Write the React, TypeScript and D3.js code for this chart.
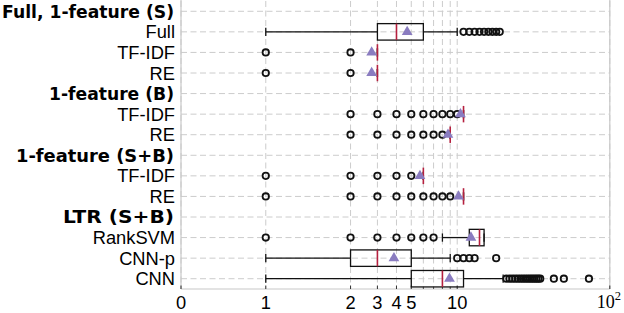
import React from "react";
import * as d3 from "d3";

const rowLabels = [
  "Full, 1-feature (S)", "Full", "TF-IDF", "RE",
  "1-feature (B)", "TF-IDF", "RE",
  "1-feature (S+B)", "TF-IDF", "RE",
  "LTR (S+B)", "RankSVM", "CNN-p", "CNN",
];
const headerRows = [true, false, false, false, true, false, false, true, false, false, true, false, false, false];
const headerWidths = [172, 0, 0, 0, 125, 0, 0, 158, 0, 0, 111, 0, 0, 0];

const whiskerLow = [null, 1, 3, 3, null, 11, 9, null, 6, 11, null, 8, 1, 1];
const quartile1 = [null, 3, 3, 3, null, 11, 9, null, 6, 11, null, 12, 2, 5];
const medians = [null, 4, 3, 3, null, 11, 9, null, 6, 11, null, 14, 3, 8];
const quartile3 = [null, 6, 3, 3, null, 11, 9, null, 6, 11, null, 15, 5, 11];
const whiskerHigh = [null, 10, 3, 3, null, 11, 9, null, 6, 11, null, 15, 9, 20];
const means = [null, 4.7, 2.75, 2.75, null, 10.5, 8.7, null, 5.7, 10.2, null, 12.3, 3.85, 8.9];
const fliers: number[][] = [
  [],
  [11, 12, 13, 14, 15, 16, 17, 18, 19],
  [1, 2],
  [1, 2],
  [],
  [2, 3, 4, 5, 6, 7, 8, 9, 10],
  [2, 3, 4, 5, 6, 7, 8],
  [],
  [1, 2, 3, 4, 5],
  [1, 2, 3, 4, 5, 6, 7, 8, 9],
  [],
  [1, 2, 3, 4, 5, 6, 7],
  [10, 11, 12, 13, 18],
  [21, 22, 23, 24, 25, 26, 27, 28, 29, 30, 31, 32, 33, 34, 35, 43, 50, 73],
];

const majorTicks = [0, 1, 2, 3, 4, 5, 10, 100];
const minorTicks = [6, 7, 8, 9];

// matplotlib-like symlog: linthresh 2, linscale 1, base 10
const LINTHRESH = 2;
const LINSCALE_ADJ = 1 / (1 - 1 / 10);
const symT = (v: number) =>
  v <= LINTHRESH ? v * LINSCALE_ADJ : LINTHRESH * (LINSCALE_ADJ + Math.log10(v / LINTHRESH));

const W = 624, H = 313;
const left = 181, right = 609.8, top = 1, bottom = 289;

const MEDIAN = "#b5203f";
const MEAN = "#8a7cc0";
const GRID = "#cccccc";

export default function App() {
  const xs = d3.scaleLinear().domain([symT(0), symT(100)]).range([left, right]);
  const x = (v: number) => xs(symT(v));
  const yb = d3.scaleBand<number>().domain(d3.range(rowLabels.length)).range([top, bottom]);
  const bw = yb.bandwidth();
  const yc = (i: number) => (yb(i) as number) + bw / 2;
  const boxH = bw * 0.8;
  const tri = d3.symbol().type(d3.symbolTriangle).size(50)() as string;

  return (
    <svg width={W} height={H} style={{ position: "absolute", left: 0, top: 0 }}>
      {/* grid */}
      {[...majorTicks, ...minorTicks].map((t) => (
        <line key={"vg" + t} x1={x(t)} x2={x(t)} y1={top} y2={bottom} stroke={GRID} strokeWidth={1} strokeDasharray="6,3.5" />
      ))}
      {rowLabels.map((_, i) => (
        <line key={"hg" + i} x1={left} x2={right} y1={yc(i)} y2={yc(i)} stroke={GRID} strokeWidth={1} strokeDasharray="6,3.5" />
      ))}
      {/* spines */}
      <line x1={left} x2={left} y1={0} y2={bottom} stroke="#c8c8c8" strokeWidth={1.2} />
      <line x1={right} x2={right} y1={0} y2={bottom} stroke="#c8c8c8" strokeWidth={1.2} />
      <line x1={left} x2={right} y1={bottom} y2={bottom} stroke="#c8c8c8" strokeWidth={1.2} />
      {/* ticks */}
      {majorTicks.map((t) => (
        <line key={"mt" + t} x1={x(t)} x2={x(t)} y1={bottom} y2={bottom - 3.5} stroke="#333" strokeWidth={1} />
      ))}
      {minorTicks.map((t) => (
        <line key={"mi" + t} x1={x(t)} x2={x(t)} y1={bottom} y2={bottom - 2} stroke="#333" strokeWidth={0.8} />
      ))}
      {/* boxes */}
      {rowLabels.map((_, i) => {
        if (headerRows[i]) return null;
        const cy = yc(i);
        const wl = whiskerLow[i] as number, q1 = quartile1[i] as number, q3 = quartile3[i] as number, wh = whiskerHigh[i] as number;
        const capH = boxH / 2;
        return (
          <g key={"b" + i} stroke="#111" strokeWidth={1.3} fill="none">
            <line x1={x(wl)} x2={x(q1)} y1={cy} y2={cy} />
            <line x1={x(q3)} x2={x(wh)} y1={cy} y2={cy} />
            <line x1={x(wl)} x2={x(wl)} y1={cy - capH / 2} y2={cy + capH / 2} />
            <line x1={x(wh)} x2={x(wh)} y1={cy - capH / 2} y2={cy + capH / 2} />
            <rect x={x(q1)} y={cy - boxH / 2} width={x(q3) - x(q1)} height={boxH} />
          </g>
        );
      })}
      {/* fliers */}
      {fliers.map((fs, i) =>
        fs.map((f, j) => (
          <circle key={"f" + i + "-" + j} cx={x(f)} cy={yc(i)} r={3.2} fill="none" stroke="#111" strokeWidth={1.8} />
        ))
      )}
      {/* medians */}
      {rowLabels.map((_, i) =>
        headerRows[i] ? null : (
          <line key={"m" + i} x1={x(medians[i] as number)} x2={x(medians[i] as number)} y1={yc(i) - boxH / 2} y2={yc(i) + boxH / 2} stroke={MEDIAN} strokeWidth={1.6} />
        )
      )}
      {/* means */}
      {rowLabels.map((_, i) =>
        headerRows[i] ? null : (
          <path key={"mn" + i} d={tri} transform={`translate(${x(means[i] as number)},${yc(i)})`} fill={MEAN} />
        )
      )}
      {/* y labels */}
      {rowLabels.map((lab, i) =>
        headerRows[i] ? (
          <text
            key={"yl" + i}
            x={174}
            y={yc(i)}
            dy="0.36em"
            textAnchor="end"
            fontFamily="DejaVu Sans"
            fontWeight="bold"
            fontSize={17.5}
            textLength={headerWidths[i]}
            lengthAdjust="spacingAndGlyphs"
            fill="#000"
          >
            {lab}
          </text>
        ) : (
          <text
            key={"yl" + i}
            x={175}
            y={yc(i)}
            dy="0.36em"
            textAnchor="end"
            fontFamily="Liberation Sans"
            fontSize={18.3}
            fill="#000"
          >
            {lab}
          </text>
        )
      )}
      {/* x labels */}
      {majorTicks.slice(0, -1).map((t) => (
        <text key={"xl" + t} x={x(t)} y={309} textAnchor="middle" fontFamily="Liberation Sans" fontSize={18.3} fill="#000">
          {t}
        </text>
      ))}
      <text x={621} y={308} textAnchor="end" fontFamily="Liberation Serif" fontSize={18} fill="#000">
        10<tspan dy={-8} fontSize={12.5}>2</tspan>
      </text>
    </svg>
  );
}
